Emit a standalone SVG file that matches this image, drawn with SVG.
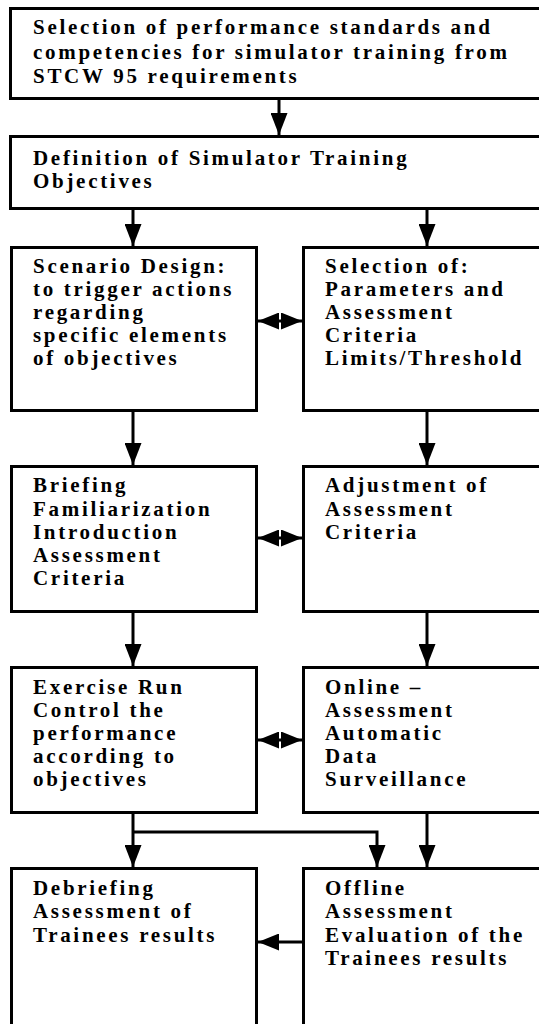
<svg xmlns="http://www.w3.org/2000/svg" width="539" height="1024" viewBox="0 0 539 1024">
<style>
.box{fill:#fff;stroke:#000;stroke-width:3}
text{font-family:'Liberation Serif','Times New Roman',serif;font-weight:700;font-size:21px;letter-spacing:2.7px;fill:#000}
.c{fill:none;stroke:#000;stroke-width:3}
</style>
<defs>
<marker id="ah" viewBox="0 0 22 17" refX="22" refY="8.5" markerWidth="22" markerHeight="17" markerUnits="userSpaceOnUse" orient="auto"><path d="M0,0 L22,8.5 L0,17 z" fill="#000"/></marker>
<marker id="ah2" viewBox="0 0 21 17" refX="21" refY="8.5" markerWidth="21" markerHeight="17" markerUnits="userSpaceOnUse" orient="auto"><path d="M0,0 L21,8.5 L0,17 z" fill="#000"/></marker>
</defs>
<rect width="539" height="1024" fill="#fff"/>
<g id="n1"><rect class="box" x="10.5" y="8.5" width="540" height="90"/>
<text><tspan x="33" y="34">Selection of performance standards and</tspan><tspan x="33" y="59">competencies for simulator training from</tspan><tspan x="33" y="83">STCW 95 requirements</tspan></text></g>
<g id="n2"><rect class="box" x="10.5" y="136.5" width="540" height="72"/>
<text><tspan x="33" y="165">Definition of Simulator Training</tspan><tspan x="33" y="188">Objectives</tspan></text></g>
<g id="n3"><rect class="box" x="11.5" y="247.5" width="245" height="163"/>
<text><tspan x="33" y="273">Scenario Design:</tspan><tspan x="33" y="296">to trigger actions</tspan><tspan x="33" y="319">regarding</tspan><tspan x="33" y="342">specific elements</tspan><tspan x="33" y="365">of objectives</tspan></text></g>
<g id="n4"><rect class="box" x="303.5" y="247.5" width="245" height="163"/>
<text><tspan x="325" y="273">Selection of:</tspan><tspan x="325" y="296">Parameters and</tspan><tspan x="325" y="319">Assessment</tspan><tspan x="325" y="342">Criteria</tspan><tspan x="325" y="365">Limits/Threshold</tspan></text></g>
<g id="n5"><rect class="box" x="11.5" y="466.5" width="245" height="145"/>
<text><tspan x="33" y="492">Briefing</tspan><tspan x="33" y="516">Familiarization</tspan><tspan x="33" y="539">Introduction</tspan><tspan x="33" y="562">Assessment</tspan><tspan x="33" y="585">Criteria</tspan></text></g>
<g id="n6"><rect class="box" x="303.5" y="466.5" width="245" height="145"/>
<text><tspan x="325" y="492">Adjustment of</tspan><tspan x="325" y="516">Assessment</tspan><tspan x="325" y="539">Criteria</tspan></text></g>
<g id="n7"><rect class="box" x="11.5" y="667.5" width="245" height="145"/>
<text><tspan x="33" y="694">Exercise Run</tspan><tspan x="33" y="717">Control the</tspan><tspan x="33" y="740">performance</tspan><tspan x="33" y="763">according to</tspan><tspan x="33" y="786">objectives</tspan></text></g>
<g id="n8"><rect class="box" x="303.5" y="667.5" width="245" height="145"/>
<text><tspan x="325" y="694">Online –</tspan><tspan x="325" y="717">Assessment</tspan><tspan x="325" y="740">Automatic</tspan><tspan x="325" y="763">Data</tspan><tspan x="325" y="786">Surveillance</tspan></text></g>
<g id="n9"><rect class="box" x="11.5" y="868.5" width="245" height="170"/>
<text><tspan x="33" y="895">Debriefing</tspan><tspan x="33" y="918">Assessment of</tspan><tspan x="33" y="942">Trainees results</tspan></text></g>
<g id="n10"><rect class="box" x="303.5" y="868.5" width="245" height="170"/>
<text><tspan x="325" y="895">Offline</tspan><tspan x="325" y="918">Assessment</tspan><tspan x="325" y="942">Evaluation of the</tspan><tspan x="325" y="965">Trainees results</tspan></text></g>
<g id="connectors">
<path class="c" d="M279,100 V135" marker-end="url(#ah)"/>
<path class="c" d="M133,210 V246" marker-end="url(#ah)"/>
<path class="c" d="M427,210 V246" marker-end="url(#ah)"/>
<path class="c" d="M133,412 V465" marker-end="url(#ah)"/>
<path class="c" d="M427,412 V465" marker-end="url(#ah)"/>
<path class="c" d="M133,613 V666" marker-end="url(#ah)"/>
<path class="c" d="M427,613 V666" marker-end="url(#ah)"/>
<path class="c" d="M133,814 V867" marker-end="url(#ah)"/>
<path class="c" d="M133,832 H377 V867" marker-end="url(#ah)"/>
<path class="c" d="M427,814 V867" marker-end="url(#ah)"/>
<path class="c" d="M280,321 H258" marker-end="url(#ah2)"/>
<path class="c" d="M280,321 H302" marker-end="url(#ah2)"/>
<path class="c" d="M280,538 H258" marker-end="url(#ah2)"/>
<path class="c" d="M280,538 H302" marker-end="url(#ah2)"/>
<path class="c" d="M280,740 H258" marker-end="url(#ah2)"/>
<path class="c" d="M280,740 H302" marker-end="url(#ah2)"/>
<path class="c" d="M302,942 H258" marker-end="url(#ah2)"/>
</g>
</svg>
